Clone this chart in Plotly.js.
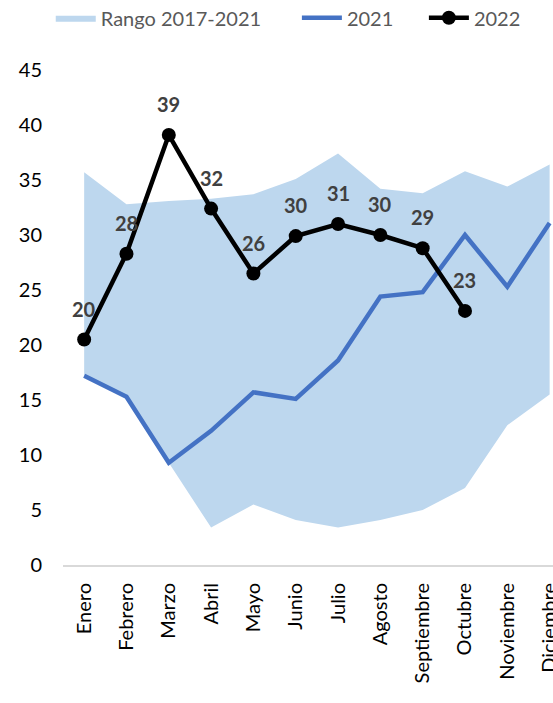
<!DOCTYPE html>
<html>
<head>
<meta charset="utf-8">
<script src="https://cdn.plot.ly/plotly-3.0.1.min.js"></script>
<style>html,body{margin:0;padding:0;background:#fff;}#chart{width:553px;height:703px;}</style>
</head>
<body>
<div id="chart"></div>
<script>
const months = ["Enero","Febrero","Marzo","Abril","Mayo","Junio","Julio","Agosto","Septiembre","Octubre","Noviembre","Diciembre"];
const rangeMin = [17.2, 15.3, 9.3, 3.4, 5.5, 4.1, 3.4, 4.1, 5.0, 7.0, 12.7, 15.5];
const rangeMax = [35.7, 32.8, 33.1, 33.3, 33.7, 35.1, 37.4, 34.2, 33.8, 35.8, 34.4, 36.4];
const values2021 = [17.2, 15.3, 9.3, 12.2, 15.7, 15.1, 18.6, 24.4, 24.8, 30.0, 25.3, 31.1];
const months2022 = ["Enero","Febrero","Marzo","Abril","Mayo","Junio","Julio","Agosto","Septiembre","Octubre"];
const values2022 = [20.5, 28.3, 39.1, 32.4, 26.5, 29.9, 31.0, 30.0, 28.8, 23.1];
const labels2022 = ["20","28","39","32","26","30","31","30","29","23"];
const seriesNames = ["Rango 2017-2021", "2021", "2022"];

const FONT = "Lato, 'Open Sans', sans-serif";
const pad = n => "\u00a0".repeat(n);

const traces = [
  {x: months, y: rangeMin, type: "scatter", mode: "lines", line: {width: 0, color: "#BDD7EE"},
   showlegend: false, hoverinfo: "skip"},
  {x: months, y: rangeMax, type: "scatter", mode: "lines", fill: "tonexty", fillcolor: "#BDD7EE",
   line: {width: 0, color: "#BDD7EE"}, name: seriesNames[0] + pad(6)},
  {x: months, y: values2021, type: "scatter", mode: "lines", line: {color: "#4472C4", width: 4.5},
   name: seriesNames[1] + pad(5)},
  {x: months2022, y: values2022, type: "scatter", mode: "lines+markers",
   line: {color: "#000000", width: 4.5}, marker: {color: "#000000", size: 14}, name: seriesNames[2]}
];

const annotations = months2022.map((m, i) => ({
  x: m, y: values2022[i], xref: "x", yref: "y", text: labels2022[i], showarrow: false,
  yshift: 31, yanchor: "middle", xanchor: "center",
  font: {family: FONT, size: 20, color: "#404040", weight: "bold"}
}));

const layout = {
  width: 553, height: 703,
  margin: {l: 63, r: 0, t: 70, b: 138, autoexpand: false},
  paper_bgcolor: "#fff", plot_bgcolor: "rgba(0,0,0,0)",
  font: {family: FONT, size: 20, color: "#000"},
  showlegend: true,
  legend: {orientation: "h", x: -0.025, xanchor: "left", y: 1.145, yanchor: "top",
           font: {family: FONT, size: 20, color: "#595959"}, traceorder: "normal",
           itemwidth: 40, tracegroupgap: 0},
  xaxis: {type: "category", categoryorder: "array", categoryarray: months,
          range: [-0.5, 11.08], showgrid: false, zeroline: false,
          showline: true, linecolor: "#D9D9D9", linewidth: 2,
          ticks: "", tickangle: -90, ticklabelstandoff: 8,
          tickfont: {family: FONT, size: 20, color: "#000"}},
  yaxis: {range: [0, 45], dtick: 5, showgrid: false, zeroline: false, showline: false,
          ticks: "", ticklabelstandoff: 20,
          tickfont: {family: FONT, size: 20, color: "#000"}},
  annotations: annotations
};

Plotly.newPlot("chart", traces, layout, {displayModeBar: false, staticPlot: true});
</script>
</body>
</html>
